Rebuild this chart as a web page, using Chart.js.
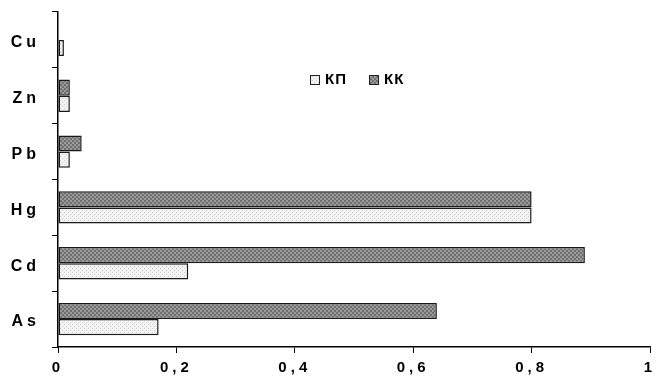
<!DOCTYPE html>
<html>
<head>
<meta charset="utf-8">
<script src="https://cdn.jsdelivr.net/npm/chart.js@4.4.1/dist/chart.umd.min.js"></script>
<style>
  html, body { margin: 0; padding: 0; background: #fff; }
  #wrap { width: 668px; height: 383px; }
</style>
</head>
<body>
<div id="wrap"><canvas id="c"></canvas></div>
<script>
// data
const elements = ['Cu', 'Zn', 'Pb', 'Hg', 'Cd', 'As'];
const kkValues = [null, 0.02, 0.04, 0.8, 0.89, 0.64];
const kpValues = [0.01, 0.02, 0.02, 0.8, 0.22, 0.17];
const xTicks = [0, 0.2, 0.4, 0.6, 0.8, 1];

// fill patterns like the old excel hatches
function makePattern(kind) {
  const p = document.createElement('canvas');
  p.width = 4; p.height = 4;
  const g = p.getContext('2d');
  if (kind === 'dark') {
    g.fillStyle = '#9a9a9a';
    g.fillRect(0, 0, 4, 4);
    g.fillStyle = '#707070';
    g.fillRect(0, 0, 2, 2);
    g.fillRect(2, 2, 2, 2);
  } else {
    g.fillStyle = '#f2f2f2';
    g.fillRect(0, 0, 4, 4);
    g.fillStyle = '#cfcfcf';
    g.fillRect(0, 0, 1, 1);
    g.fillRect(2, 2, 1, 1);
  }
  return g.createPattern(p, 'repeat');
}
const darkFill = makePattern('dark');
const lightFill = makePattern('light');

// wide letter spacing of the tick labels
const spacing = {
  id: 'spacing',
  beforeLayout(chart) { chart.ctx.letterSpacing = '4px'; },
  beforeDraw(chart) { chart.ctx.letterSpacing = '4px'; }
};

// legend sits inside the plot, drawn by hand
const insideLegend = {
  id: 'insideLegend',
  afterDraw(chart) {
    const ctx = chart.ctx;
    const items = [
      { text: 'КП', fill: lightFill, x: 310 },
      { text: 'КК', fill: darkFill, x: 369 }
    ];
    ctx.save();
    ctx.letterSpacing = '1px';
    ctx.font = 'bold 15px "Liberation Sans", Arial, sans-serif';
    ctx.textBaseline = 'middle';
    items.forEach(it => {
      ctx.fillStyle = it.fill;
      ctx.fillRect(it.x, 75, 9, 9);
      ctx.strokeStyle = '#222';
      ctx.lineWidth = 1;
      ctx.strokeRect(it.x + 0.5, 75.5, 9, 9);
      ctx.fillStyle = '#000';
      ctx.fillText(it.text, it.x + 15, 80);
    });
    ctx.restore();
  }
};

new Chart(document.getElementById('c'), {
  type: 'bar',
  data: {
    labels: elements,
    datasets: [
      {
        label: 'КК',
        data: kkValues,
        backgroundColor: darkFill,
        borderColor: '#1a1a1a',
        borderWidth: 1.5,
        borderSkipped: false
      },
      {
        label: 'КП',
        data: kpValues,
        backgroundColor: lightFill,
        borderColor: '#1a1a1a',
        borderWidth: 1.5,
        borderSkipped: false
      }
    ]
  },
  options: {
    indexAxis: 'y',
    responsive: true,
    maintainAspectRatio: false,
    animation: false,
    layout: { padding: { top: 12, right: 18, left: 0, bottom: 0 } },
    datasets: {
      bar: { categoryPercentage: 0.58, barPercentage: 1 }
    },
    plugins: {
      legend: { display: false },
      tooltip: { enabled: false }
    },
    scales: {
      x: {
        min: 0,
        max: 1,
        afterBuildTicks(axis) {
          axis.ticks = xTicks.map(v => ({ value: v }));
        },
        afterFit(axis) { axis.height = 36; },
        grid: {
          drawOnChartArea: false,
          drawTicks: true,
          tickLength: 6,
          color: '#000'
        },
        border: { color: '#000', width: 1.5 },
        ticks: {
          padding: 6,
          color: '#000',
          maxRotation: 0,
          font: { family: '"Liberation Sans", Arial, sans-serif', size: 15, weight: 'bold' },
          callback: v => String(v).replace('.', ',')
        }
      },
      y: {
        afterFit(axis) {
          axis.width = 58;
          axis.paddingTop = 0;
          axis.paddingBottom = 0;
        },
        grid: {
          offset: true,
          drawOnChartArea: false,
          drawTicks: true,
          tickLength: 6,
          color: '#000'
        },
        border: { color: '#000', width: 1.5 },
        ticks: {
          padding: 12,
          labelOffset: 3,
          color: '#000',
          font: { family: '"Liberation Sans", Arial, sans-serif', size: 16, weight: 'bold' }
        }
      }
    }
  },
  plugins: [spacing, insideLegend]
});
</script>
</body>
</html>
